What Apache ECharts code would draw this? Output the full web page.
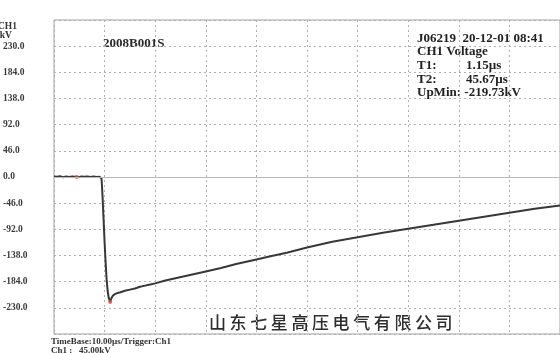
<!DOCTYPE html>
<html>
<head>
<meta charset="utf-8">
<script src="https://cdn.jsdelivr.net/npm/echarts@6/dist/echarts.min.js"></script>
<style>
  html, body { margin: 0; padding: 0; background: #fff; }
  #chart { width: 560px; height: 353px; }
</style>
</head>
<body>
<div id="chart"></div>
<script>
// Impulse voltage record, CH1, 10 µs/div, 46 kV/div
const timeUs = [
  0, 0.6, 1.2, 1.8, 2.4, 3.0, 3.6, 4.2, 4.8, 5.4, 6.0, 6.6, 7.2, 7.8, 8.4, 9.0, 9.3,
  9.4, 9.6, 9.8, 10.0, 10.2, 10.4, 10.6, 10.8, 11.1, 11.3, 11.6, 12, 12.5, 13,
  14, 15, 16, 17, 18, 19, 20, 22, 24, 26, 28, 30, 33, 36, 40, 43, 46, 50,
  55, 60, 65, 70, 75, 80, 85, 90, 95, 100
];
const voltageKv = [
  1.0, 0.4, 1.2, -0.3, 0.8, 0.2, 1.1, 0.5, -0.2, 0.9, 0.3, 1.0, 0.1, 0.7, -0.1, 0.6, 0.4,
  -3, -35, -75, -115, -150, -180, -200, -212, -219.73, -214, -209, -206, -204, -203,
  -200, -198, -196, -193, -191, -189, -187, -182, -178, -174, -170, -166, -160, -153, -145, -139, -133, -124,
  -114, -106, -98, -91, -84, -77, -70, -63, -56, -50
];
// cursor markers: trigger reference and peak (UpMin)
const markerTimes = [4.5, 11.1];
const markerValues = [0, -219.73];

const yTicks = [-276, -230, -184, -138, -92, -46, 0, 46, 92, 138, 184, 230, 276];

const recordId = '2008B001S';
const infoLines = [
  ['J06219  20-12-01 08:41', ''],
  ['CH1 Voltage', ''],
  ['T1:', '1.15µs'],
  ['T2:', '45.67µs'],
  ['UpMin: -219.73kV', '']
];
const company = '山东七星高压电气有限公司';
const footerLines = ['TimeBase:10.00µs/Trigger:Ch1', 'Ch1 :   45.00kV'];

const serif = '"Liberation Serif", "DejaVu Serif", serif';

const chart = echarts.init(document.getElementById('chart'), null, { renderer: 'canvas' });

const graphics = [
  { type: 'text', left: -2, top: 22, style: { text: 'CH1', font: 'bold 9.5px ' + serif, fill: '#333' } },
  { type: 'text', left: -3, top: 31, style: { text: '/kV', font: 'bold 9.5px ' + serif, fill: '#333' } },
  { type: 'text', left: 103, top: 37, style: { text: recordId, font: 'bold 13px ' + serif, fill: '#2a2a2a' } }
];
infoLines.forEach((ln, i) => {
  graphics.push({ type: 'text', left: 417, top: 32 + i * 13.6,
    style: { text: ln[0], font: 'bold 13px ' + serif, fill: '#222' } });
  if (ln[1]) {
    graphics.push({ type: 'text', left: 466, top: 32 + i * 13.6,
      style: { text: ln[1], font: 'bold 13px ' + serif, fill: '#222' } });
  }
});
Array.from(company).forEach((ch, i) => {
  graphics.push({ type: 'text', left: 209 + i * 20.6, top: 314,
    style: { text: ch, font: '500 17px "Noto Sans CJK SC"', fill: '#2e2e2e' } });
});
footerLines.forEach((t, i) => {
  graphics.push({ type: 'text', left: 51, top: 337 + i * 9,
    style: { text: t, font: 'bold 9px ' + serif, fill: '#333' } });
});

const dotted = { color: '#b0b0b0', type: [2, 3], width: 1 };

chart.setOption({
  animation: false,
  backgroundColor: '#ffffff',
  grid: { left: 51, top: 20, width: 520, height: 314, show: true, borderColor: '#a0a0a0', borderWidth: 1 },
  xAxis: {
    type: 'value', min: 0, max: 100, interval: 10,
    axisLine: { show: false }, axisTick: { show: false }, axisLabel: { show: false },
    splitLine: { show: true, lineStyle: dotted }
  },
  yAxis: {
    type: 'value', min: yTicks[0], max: yTicks[yTicks.length - 1], interval: 46,
    axisLine: { show: false }, axisTick: { show: false },
    axisLabel: {
      align: 'left', margin: 51, padding: [4, 0, 0, 0],
      fontFamily: serif, fontWeight: 'bold', fontSize: 9.5, color: '#3a3a3a',
      formatter: v => (Math.abs(v) > 250 ? '' : v.toFixed(1))
    },
    splitLine: { show: true, lineStyle: dotted }
  },
  series: [
    {
      type: 'line', data: timeUs.map((t, i) => [t, voltageKv[i]]),
      showSymbol: false, smooth: false, silent: true,
      lineStyle: { color: '#383838', width: 2 },
      markLine: {
        silent: true, symbol: 'none', label: { show: false },
        lineStyle: { color: '#b8b8b8', type: 'solid', width: 1 },
        data: [{ yAxis: 0 }]
      },
      z: 3
    },
    {
      type: 'scatter', data: markerTimes.map((t, i) => [t, markerValues[i]]),
      symbolSize: 4, itemStyle: { color: '#e0503a' }, silent: true, z: 4
    }
  ],
  graphic: graphics
});
</script>
</body>
</html>
